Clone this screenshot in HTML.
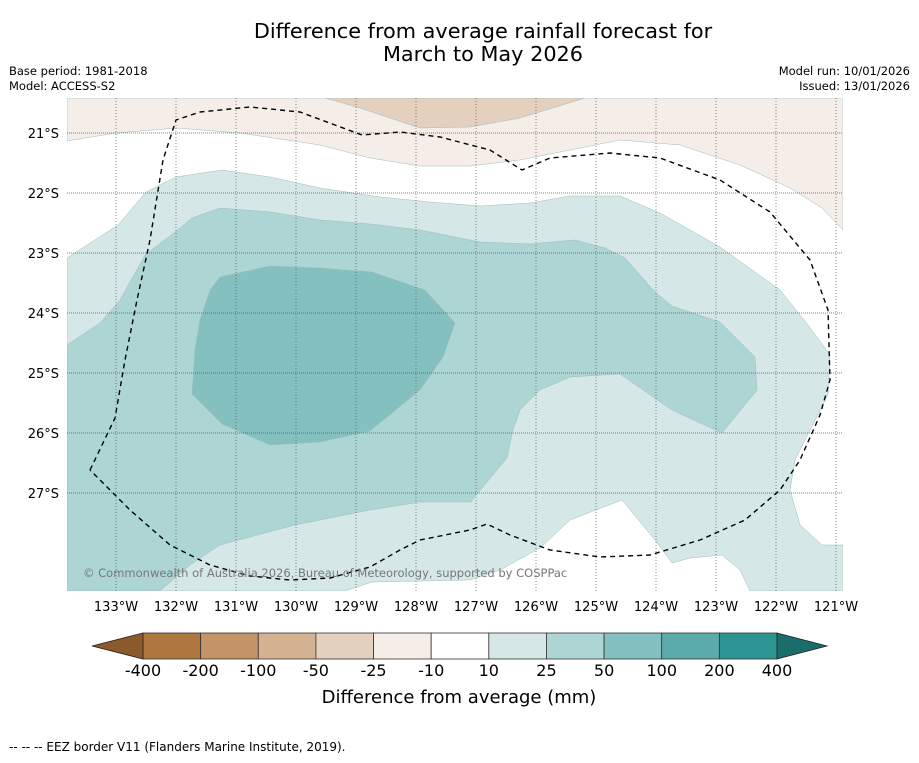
<!DOCTYPE html>
<html><head><meta charset="utf-8">
<style>
body{margin:0;background:#fff;width:919px;height:758px;overflow:hidden;font-family:"Liberation Sans","DejaVu Sans",sans-serif;}
svg text{font-family:"DejaVu Sans","Liberation Sans",sans-serif;}
</style></head>
<body>
<svg id="chart" width="919" height="758" viewBox="0 0 919 758">
<text x="483" y="38" font-size="20.8" text-anchor="middle">Difference from average rainfall forecast for</text>
<text x="483" y="61" font-size="20.8" text-anchor="middle">March to May 2026</text>
<text x="9" y="75" font-size="11.5">Base period: 1981-2018</text>
<text x="9" y="90" font-size="11.5">Model: ACCESS-S2</text>
<text x="910" y="75" font-size="11.5" text-anchor="end">Model run: 10/01/2026</text>
<text x="910" y="90" font-size="11.5" text-anchor="end">Issued: 13/01/2026</text>
<defs><clipPath id="mapclip"><rect x="67" y="98" width="776" height="493"/></clipPath></defs>
<g id="map" clip-path="url(#mapclip)"></g>
<g id="axes"></g>
<g id="cbar"></g>
<text x="459" y="703" font-size="18" text-anchor="middle">Difference from average (mm)</text>
<text x="9" y="751" font-size="12">--  --  -- EEZ border V11 (Flanders Marine Institute, 2019).</text>
</svg>
<script>
const NS="http://www.w3.org/2000/svg";
const lonTicks=[133,132,131,130,129,128,127,126,125,124,123,122,121];
const latTicks=[21,22,23,24,25,26,27];
const levels=["-400","-200","-100","-50","-25","-10","10","25","50","100","200","400"];
const binColors=["#ae773f","#c29467","#d4b292","#e3d0bf","#f5ede8","#ffffff","#d5e8e7","#acd5d4","#84c0bf","#5aabaa","#2e9692"];
const lowArrowColor="#8c5a2a", highArrowColor="#1b6d6b";
// contour shapes (screen px)
const tan10=[[67,98],[67,141],[116,133],[176,128],[240,133],[320,145],[370,158],[420,166],[470,166],[520,160],[570,150],[620,140],[680,145],[740,165],[790,188],[822,208],[843,230],[843,98]];
const tan25=[[325,98],[360,108],[420,128],[470,127],[520,118],[585,98]];
const teal25=[[67,258],[118,225],[146,192],[176,177],[222,170],[270,177],[320,188],[380,197],[430,202],[480,206],[530,203],[570,196],[620,196],[660,213],[720,247],[780,290],[808,325],[830,355],[828,395],[810,430],[795,460],[790,490],[800,525],[822,545],[843,545],[843,591],[750,591],[740,570],[722,555],[690,558],[672,563],[655,540],[622,500],[570,520],[540,548],[500,570],[470,580],[372,582],[345,591],[67,591]];
const teal50=[[67,345],[100,323],[120,300],[145,255],[175,232],[192,218],[220,208],[270,212],[320,220],[370,224],[420,230],[480,242],[530,244],[575,240],[605,248],[625,258],[655,292],[672,306],[720,322],[755,357],[757,390],[722,433],[672,410],[620,374],[570,377],[540,390],[520,410],[513,430],[507,458],[472,500],[472,502],[420,502],[370,510],[295,525],[220,545],[190,565],[160,591],[67,591]];
const teal100=[[210,290],[220,277],[270,266],[320,268],[372,272],[425,290],[455,323],[443,357],[420,390],[392,413],[370,431],[320,442],[270,445],[222,424],[192,394],[195,350],[200,320]];
const eez=[[90,470],[115,418],[125,360],[137,300],[150,240],[163,160],[176,120],[200,112],[250,107],[300,112],[335,125],[362,135],[400,132],[440,137],[490,150],[522,170],[550,158],[610,153],[660,158],[720,180],[770,212],[810,260],[828,310],[830,380],[820,415],[800,460],[780,490],[745,520],[700,540],[650,555],[600,557],[550,550],[510,535],[487,524],[470,530],[420,540],[400,550],[370,567],[330,578],[290,580],[250,576],[210,565],[170,545],[130,510],[90,470]];
const xLon=l=>116+(133-l)*60;
const yLat=l=>133+(l-21)*60;
const map=document.getElementById('map');
function poly(pts,fill,name){const p=document.createElementNS(NS,'polygon');p.setAttribute('points',pts.map(q=>q.join(',')).join(' '));p.setAttribute('fill',fill);p.setAttribute('stroke','#9cbcbc');p.setAttribute('stroke-width','0.5');


map.appendChild(p);}
poly(tan10,binColors[4],'contour-minus10');
poly(tan25,binColors[3],'contour-minus25');
poly(teal25,binColors[6],'contour-25');
poly(teal50,binColors[7],'contour-50');
poly(teal100,binColors[8],'contour-100');
lonTicks.forEach(l=>{const ln=document.createElementNS(NS,'line');ln.setAttribute('x1',xLon(l));ln.setAttribute('x2',xLon(l));ln.setAttribute('y1',98);ln.setAttribute('y2',591);ln.setAttribute('stroke','#555');ln.setAttribute('stroke-width','0.7');ln.setAttribute('stroke-dasharray','1,2');


map.appendChild(ln);});
latTicks.forEach(l=>{const ln=document.createElementNS(NS,'line');ln.setAttribute('x1',67);ln.setAttribute('x2',843);ln.setAttribute('y1',yLat(l));ln.setAttribute('y2',yLat(l));ln.setAttribute('stroke','#555');ln.setAttribute('stroke-width','0.7');ln.setAttribute('stroke-dasharray','1,1');


map.appendChild(ln);});
const e=document.createElementNS(NS,'polyline');e.setAttribute('points',eez.map(q=>q.join(',')).join(' '));e.setAttribute('fill','none');e.setAttribute('stroke','#000');e.setAttribute('stroke-width','1.4');e.setAttribute('stroke-dasharray','5,4');


map.appendChild(e);
const cp=document.createElementNS(NS,'text');cp.setAttribute('x',83);cp.setAttribute('y',577);cp.setAttribute('font-size','11.5');cp.setAttribute('fill','#777');cp.textContent='© Commonwealth of Australia 2026, Bureau of Meteorology, supported by COSPPac';


map.appendChild(cp);
const axes=document.getElementById('axes');
lonTicks.forEach(l=>{const t=document.createElementNS(NS,'text');t.setAttribute('x',xLon(l));t.setAttribute('y',611);t.setAttribute('font-size','13');t.setAttribute('text-anchor','middle');t.textContent=l+'°W';


axes.appendChild(t);});
latTicks.forEach(l=>{const t=document.createElementNS(NS,'text');t.setAttribute('x',59);t.setAttribute('y',yLat(l)+5);t.setAttribute('font-size','13');t.setAttribute('text-anchor','end');t.textContent=l+'°S';


axes.appendChild(t);});
const cb=document.getElementById('cbar');
const cx0=143,cx1=777,cy0=633,cy1=659,bw=(cx1-cx0)/binColors.length;
binColors.forEach((c,i)=>{const r=document.createElementNS(NS,'rect');r.setAttribute('x',cx0+i*bw);r.setAttribute('y',cy0);r.setAttribute('width',bw);r.setAttribute('height',cy1-cy0);r.setAttribute('fill',c);r.setAttribute('stroke','#333');r.setAttribute('stroke-width','0.8');


cb.appendChild(r);});
[[lowArrowColor,`${cx0},${cy0} ${cx0},${cy1} 92,646`],[highArrowColor,`${cx1},${cy0} ${cx1},${cy1} 827,646`]].forEach(a=>{const p=document.createElementNS(NS,'polygon');p.setAttribute('points',a[1]);p.setAttribute('fill',a[0]);p.setAttribute('stroke','#222');p.setAttribute('stroke-width','0.8');


cb.appendChild(p);});
levels.forEach((lv,i)=>{const t=document.createElementNS(NS,'text');t.setAttribute('x',cx0+i*bw);t.setAttribute('y',676);t.setAttribute('font-size','16');t.setAttribute('text-anchor','middle');t.textContent=lv;


cb.appendChild(t);});
</script>
</body></html>
